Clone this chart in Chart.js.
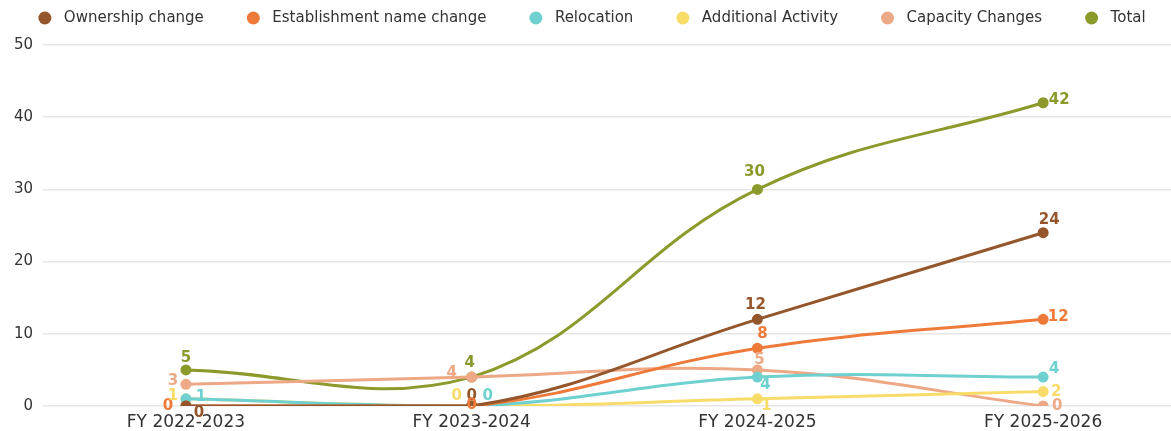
<!DOCTYPE html>
<html>
<head>
<meta charset="utf-8">
<title>Amendments by financial year</title>
<script src="https://cdn.jsdelivr.net/npm/chart.js@4"></script>
<style>
  html, body { margin: 0; padding: 0; background: #fff; overflow: hidden; }
</style>
</head>
<body>
<canvas id="lineChart" width="1194" height="431"></canvas>
<script>
//========== lineChart ==========//

// categories and series
const years = ['FY 2022-2023', 'FY 2023-2024', 'FY 2024-2025', 'FY 2025-2026'];
const ownershipChange = [0, 0, 12, 24];
const nameChange = [0, 0, 8, 12];
const relocation = [1, 0, 4, 4];
const additionalActivity = [1, 0, 1, 2];
const capacityChanges = [3, 4, 5, 0];
const total = [5, 4, 30, 42];

// y axis ticks
const yTicks = [0, 10, 20, 30, 40, 50];

// where each value label sits relative to its point [dx, dy]
const labelOffsets = [
    [[13, 7], [0, -10], [-2, -14], [6, -13]],
    [[-18, 0], [0, -1], [5, -14], [15, -2]],
    [[15, -2], [16, -10], [8, 8], [11, -8]],
    [[-13, -3], [-15, -10], [9, 7], [13, 1]],
    [[-13, -3], [-20, -4], [2, -10], [14, 0]],
    [[0, -12], [-2, -14], [-3, -17], [16, -3]]
];

const fontFamily = '"DejaVu Sans", sans-serif';
const textColor = '#333';

function series(label, data, color) {
    return {
        label: label,
        data: data,
        borderColor: color,
        backgroundColor: color,
        pointBackgroundColor: color,
        pointBorderColor: color,
        borderWidth: 3,
        pointRadius: 4,
        pointHoverRadius: 5,
        tension: 0.4
    };
}

const dataline = {
    labels: years,
    datasets: [
        series('Ownership change', ownershipChange, '#95562b'),
        series('Establishment name change', nameChange, '#ee7a3a'),
        series('Relocation', relocation, '#6fd0d0'),
        series('Additional Activity', additionalActivity, '#f8dc6a'),
        series('Capacity Changes', capacityChanges, '#eda886'),
        series('Total', total, '#8c9a2b')
    ]
};

// draws the number next to every point
const valueLabels = {
    id: 'valueLabels',
    afterDatasetsDraw(chart) {
        const ctx = chart.ctx;
        ctx.save();
        ctx.font = 'bold 15px ' + fontFamily;
        ctx.textAlign = 'center';
        ctx.textBaseline = 'middle';
        chart.data.datasets.forEach((ds, i) => {
            const meta = chart.getDatasetMeta(i);
            meta.data.forEach((pt, j) => {
                const off = labelOffsets[i][j];
                ctx.fillStyle = ds.borderColor;
                ctx.fillText(String(ds.data[j]), pt.x + off[0], pt.y + off[1]);
            });
        });
        ctx.restore();
    }
};

// legend row along the top: dot, gap, name
const legendRow = {
    id: 'legendRow',
    afterDraw(chart) {
        const ctx = chart.ctx;
        const dot = 6.5, gap = 19, spacing = 43, y = 18;
        ctx.save();
        ctx.font = '15px ' + fontFamily;
        ctx.textBaseline = 'middle';
        ctx.textAlign = 'left';
        const items = chart.data.datasets.map(ds => ({
            text: ds.label,
            color: ds.borderColor,
            w: ctx.measureText(ds.label).width
        }));
        let width = 0;
        items.forEach((it, i) => {
            width += dot + gap + it.w + (i < items.length - 1 ? spacing : 0);
        });
        let x = 592 - width / 2;
        items.forEach(it => {
            ctx.fillStyle = it.color;
            ctx.beginPath();
            ctx.arc(x + dot, y, dot, 0, Math.PI * 2);
            ctx.fill();
            ctx.fillStyle = textColor;
            ctx.fillText(it.text, x + dot + gap, y);
            x += dot + gap + it.w + spacing;
        });
        ctx.restore();
    }
};

const configline = {
    type: 'line',
    data: dataline,
    plugins: [valueLabels, legendRow],
    options: {
        responsive: false,
        animation: false,
        layout: { padding: { left: 4, right: 0, top: 45, bottom: 0 } },
        plugins: {
            legend: { display: false },
            tooltip: { enabled: false }
        },
        scales: {
            x: {
                offset: true,
                grid: { display: false },
                border: { display: false },
                ticks: { color: textColor, font: { family: fontFamily, size: 17, lineHeight: 1 }, padding: 0 }
            },
            y: {
                min: 0,
                max: 50,
                afterBuildTicks(axis) {
                    axis.ticks = yTicks.map(v => ({ value: v }));
                },
                grid: { color: '#e6e6e6', lineWidth: 1.5, drawTicks: false },
                border: { display: false },
                ticks: { color: textColor, font: { family: fontFamily, size: 15 }, padding: 10 }
            }
        }
    }
};

// render lineChart
const lineChart = new Chart(
    document.getElementById('lineChart'),
    configline
);
</script>
</body>
</html>
